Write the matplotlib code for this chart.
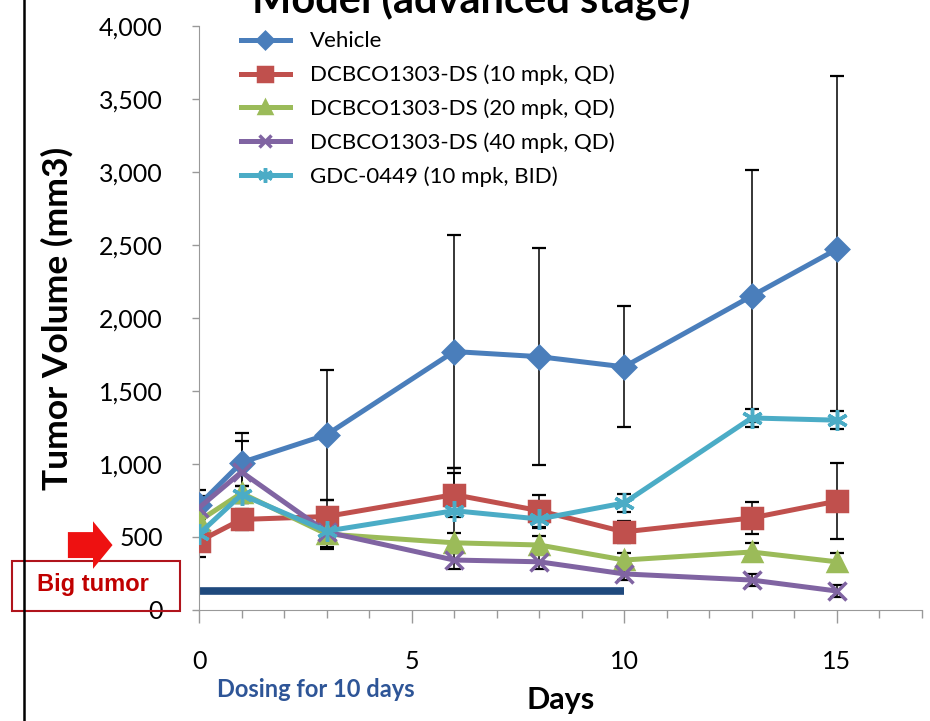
import numpy as np
import matplotlib.pyplot as plt
from matplotlib.patches import FancyArrow, Rectangle
from matplotlib.lines import Line2D
from matplotlib.ticker import MultipleLocator, FuncFormatter

# data
days = [0, 1, 3, 6, 8, 10, 13, 15]
labels = ["Vehicle", "DCBCO1303-DS (10 mpk, QD)", "DCBCO1303-DS (20 mpk, QD)",
          "DCBCO1303-DS (40 mpk, QD)", "GDC-0449 (10 mpk, BID)"]
vehicle = [720, 1010, 1200, 1770, 1735, 1665, 2150, 2470]
ds10 = [470, 620, 640, 790, 680, 535, 630, 745]
ds20 = [610, 800, 520, 460, 445, 342, 397, 330]
ds40 = [700, 945, 534, 342, 330, 247, 205, 130]
gdc = [520, 790, 540, 680, 623, 733, 1315, 1300]
vehicle_err = [100, 200, 445, 800, 745, 415, 865, 1190]
ds10_err = [110, 70, 110, 150, 110, 75, 110, 260]
ds20_err = [60, 50, 100, 70, 60, 50, 60, 60]
ds40_err = [80, 210, 100, 60, 50, 40, 40, 40]
gdc_err = [60, 60, 60, 290, 60, 60, 60, 60]
dosing_days = [0, 10]
dosing_level = [130, 130]

series = [vehicle, ds10, ds20, ds40, gdc]
errors = [vehicle_err, ds10_err, ds20_err, ds40_err, gdc_err]
colors = ["#4A7EBB", "#C0504D", "#9BBB59", "#8064A2", "#4BACC6"]
markers = ["D", "s", "^", "x", (6, 2, 0)]
msizes = [11, 14, 13, 13, 15]

plt.rcParams['font.family'] = ['Lato', 'DejaVu Sans']

fig = plt.figure(figsize=(9.3, 7.21), dpi=100)
ax = fig.add_axes([0.214, 0.154, 0.777, 0.810])

for y, e, c in zip(series, errors, colors):
    ax.errorbar(days, y, yerr=e, fmt="none", ecolor="black", elinewidth=1.1,
                capsize=5, capthick=1.6, zorder=2)

for y, lab, c, m, ms in zip(series, labels, colors, markers, msizes):
    ax.plot(days, y, color=c, lw=3.6, marker=m, ms=ms, mew=2.5,
            mec=c, mfc=c, label=lab, zorder=3)

ax.plot(dosing_days, dosing_level, color="#1F497D", lw=5.5,
        solid_capstyle="butt", zorder=2)

ax.set_xlim(0, 17)
ax.set_ylim(0, 4000)
ax.xaxis.set_major_locator(MultipleLocator(5))
ax.xaxis.set_minor_locator(MultipleLocator(1))
ax.yaxis.set_major_locator(MultipleLocator(500))
ax.yaxis.set_major_formatter(FuncFormatter(lambda v, p: f"{int(v):,}"))
ax.tick_params(axis="x", which="major", length=9, width=1, color="#999999",
               pad=20, labelsize=18)
ax.tick_params(axis="x", which="minor", length=6, width=1, color="#999999")
ax.tick_params(axis="y", length=5, width=1, color="#999999", pad=21,
               labelsize=18)
for s in ["top", "right"]:
    ax.spines[s].set_visible(False)
for s in ["left", "bottom"]:
    ax.spines[s].set_color("#999999")

ax.set_ylabel("Tumor Volume (mm3)", fontsize=25.5, fontweight="bold", labelpad=18)
ax.set_xlabel("Days", fontsize=22, fontweight="bold", labelpad=9)

leg = ax.legend(loc="upper left", bbox_to_anchor=(0.03, 1.025), frameon=False,
                fontsize=16, handlelength=2.2, labelspacing=0.6,
                markerscale=0.7, handletextpad=0.9)

fig.text(0.507, 0.983, "Model (advanced stage)", fontsize=30, fontweight="bold",
         ha="center", va="baseline")
fig.text(0.34, 0.043, "Dosing for 10 days", fontsize=17, fontweight="bold",
         color="#2E5597", ha="center", va="center")

# left border line
fig.add_artist(Line2D([0.026, 0.026], [0, 1], color="black", lw=1.8))

# "Big tumor" box and arrow
fig.add_artist(Rectangle((0.013, 0.152), 0.181, 0.070, fill=False,
                         edgecolor="#B0141C", lw=1.5))
fig.text(0.100, 0.189, "Big tumor", family="Liberation Sans", fontsize=17,
         fontweight="bold", color="#C00000", ha="center", va="center")
fig.add_artist(FancyArrow(0.073, 0.244, 0.027, 0, width=0.036,
                          head_width=0.066, head_length=0.021,
                          length_includes_head=False, color="#EE1111", lw=0))

fig.savefig("out.png", dpi=100)
